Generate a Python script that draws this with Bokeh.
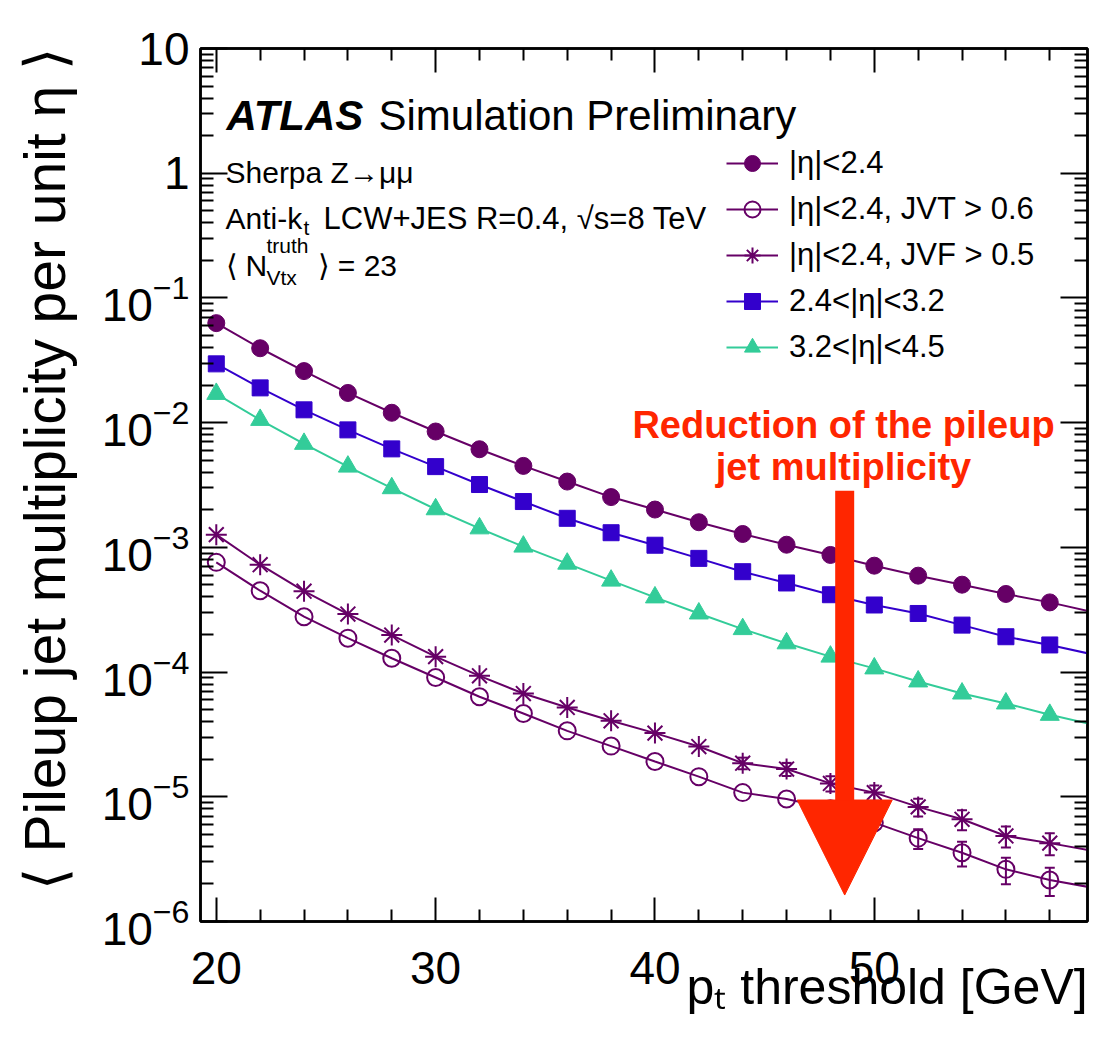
import math
from bokeh.plotting import figure
from bokeh.models import (Range1d, FixedTicker, LogTickFormatter, LinearAxis, LogAxis,
                          Label, Legend, LegendItem, Arrow, NormalHead, Whisker,
                          ColumnDataSource, TeeHead, CustomJSTickFormatter)
from bokeh.embed import file_html
from bokeh.resources import INLINE

# ---------------- data ----------------
pt_threshold = [20, 22, 24, 26, 28, 30, 32, 34, 36, 38, 40, 42, 44, 46, 48, 50, 52, 54, 56, 58, 60]

eta_lt_24 = [0.0628, 0.0395, 0.0259, 0.0173, 0.0120, 0.00849, 0.00612, 0.00450, 0.00337, 0.00253,
             0.00201, 0.00159, 0.00128, 0.00105, 0.000869, 0.000713, 0.000593, 0.000502, 0.000423,
             0.000362, 0.000302]

eta_lt_24_jvt = [0.000758, 0.000449, 0.000278, 0.000187, 0.000129, 0.0000905, 0.0000634, 0.0000465,
                 0.0000338, 0.0000255, 0.0000192, 0.0000145, 0.0000108, 0.0000096, 0.0000080,
                 0.0000062, 0.00000466, 0.00000356, 0.00000262, 0.00000215, 0.00000186]
eta_lt_24_jvt_err = [1.2e-5, 9e-6, 7e-6, 5.5e-6, 4.5e-6, 3.8e-6, 3.2e-6, 2.7e-6, 2.3e-6, 2.0e-6,
                     1.7e-6, 1.5e-6, 1.3e-6, 1.2e-6, 1.1e-6, 0.95e-6, 0.84e-6, 0.80e-6, 0.63e-6,
                     0.55e-6, 0.50e-6]

eta_lt_24_jvf = [0.001265, 0.000726, 0.000445, 0.000292, 0.000198, 0.000133, 0.0000933, 0.0000673,
                 0.0000520, 0.0000407, 0.0000324, 0.0000253, 0.0000186, 0.0000167, 0.0000128,
                 0.0000108, 0.0000083, 0.0000066, 0.00000485, 0.00000425, 0.00000368]
eta_lt_24_jvf_err = [2.5e-5, 1.7e-5, 1.2e-5, 9e-6, 7e-6, 5.5e-6, 4.5e-6, 3.8e-6, 3.3e-6, 2.9e-6,
                     2.6e-6, 2.3e-6, 2.0e-6, 2.0e-6, 1.8e-6, 1.5e-6, 1.35e-6, 1.2e-6, 0.93e-6,
                     0.85e-6, 0.8e-6]

eta_24_32 = [0.0296, 0.0190, 0.01267, 0.00875, 0.00616, 0.00444, 0.00319, 0.00233, 0.00171, 0.00131,
             0.00104, 0.000816, 0.000638, 0.000518, 0.000417, 0.000345, 0.000295, 0.000238, 0.000192,
             0.000165, 0.000138]

eta_32_45 = [0.0170, 0.01052, 0.00676, 0.00444, 0.00298, 0.00202, 0.00142, 0.001014, 0.000740,
             0.000541, 0.000397, 0.000295, 0.000221, 0.000170, 0.000133, 0.000107, 0.0000841,
             0.0000673, 0.0000560, 0.0000454, 0.0000378]

series_labels = ["|η|<2.4", "|η|<2.4, JVT > 0.6", "|η|<2.4, JVF > 0.5", "2.4<|η|<3.2", "3.2<|η|<4.5"]

x_major_ticks = [20, 30, 40, 50]
x_minor_ticks = [22, 24, 26, 28, 32, 34, 36, 38, 42, 44, 46, 48, 52, 54, 56, 58]
y_decades = [-6, -5, -4, -3, -2, -1, 0, 1]
y_major_ticks = [10.0 ** k for k in y_decades]
y_minor_ticks = [m * 10.0 ** k for k in y_decades[:-1] for m in range(2, 10)]

x_title = "p\u209c threshold [GeV]"
y_title = "⟨ Pileup jet multiplicity per unit η ⟩"

arrow_x = 48.65
arrow_y_start = 2.85e-3
arrow_y_end = 1.63e-6

X_MIN, X_MAX = 19.28, 59.72
Y_MIN, Y_MAX = 1e-6, 10.0

# ---------------- style ----------------
FONT = "Liberation Sans"
PURPLE = "#660066"
BLUE = "#3300cc"
GREEN = "#33cc99"
RED = "#ff2600"
NBSP = "\u00a0"

p = figure(width=1097, height=1043, x_range=Range1d(X_MIN, X_MAX), y_range=Range1d(Y_MIN, Y_MAX),
           y_axis_type="log", output_backend="svg", toolbar_location=None,
           min_border_left=200, min_border_right=10, min_border_top=48, min_border_bottom=122,
           background_fill_color="white", border_fill_color="white")
p.grid.visible = False
p.outline_line_color = "black"
p.outline_line_width = 2.5


def style_axis(ax, major_in, minor_in, labels=True):
    ax.axis_line_color = "black"
    ax.axis_line_width = 2.5
    ax.major_tick_in = major_in
    ax.major_tick_out = 0
    ax.minor_tick_in = minor_in
    ax.minor_tick_out = 0
    ax.major_tick_line_width = 2
    ax.minor_tick_line_width = 2
    ax.major_tick_line_color = "black"
    ax.minor_tick_line_color = "black"
    if labels:
        ax.major_label_text_font = FONT
        ax.major_label_text_font_size = "46px"
        ax.major_label_text_color = "black"
    else:
        ax.formatter = CustomJSTickFormatter(code="return ''")
        ax.major_label_standoff = 0


def style_title(ax, text, size, standoff):
    ax.axis_label = text
    ax.axis_label_text_font = FONT
    ax.axis_label_text_font_size = f"{size}px"
    ax.axis_label_text_font_style = "normal"
    ax.axis_label_text_color = "black"
    ax.axis_label_standoff = standoff


xax = p.xaxis[0]
xax.ticker = FixedTicker(ticks=x_major_ticks, minor_ticks=x_minor_ticks)
style_axis(xax, 24, 12)
xax.major_label_standoff = 30
# title is centred by Bokeh; leading no-break spaces push it to the right end like ROOT
style_title(xax, NBSP * 35 + x_title, 50, -28)

yax = p.yaxis[0]
yax.ticker = FixedTicker(ticks=y_major_ticks, minor_ticks=y_minor_ticks)
yax.formatter = LogTickFormatter()
yax.major_label_overrides = {10: "10", 1: "1"}
style_axis(yax, 27, 13)
yax.major_label_standoff = 11
style_title(yax, NBSP * 2 + y_title, 57, 22)

top = LinearAxis(ticker=FixedTicker(ticks=x_major_ticks, minor_ticks=x_minor_ticks))
style_axis(top, 24, 12, labels=False)
p.add_layout(top, "above")

right = LogAxis(ticker=FixedTicker(ticks=y_major_ticks, minor_ticks=y_minor_ticks))
style_axis(right, 27, 13, labels=False)
p.add_layout(right, "right")


# ---------------- series ----------------
def in_view(xs, ys):
    sel = [(x, y) for x, y in zip(xs, ys) if X_MIN <= x <= X_MAX]
    return [s[0] for s in sel], [s[1] for s in sel]


def draw_series(vals, marker, color, fill, size, lw):
    line_r = p.line(pt_threshold, vals, line_color=color, line_width=2)
    xs, ys = in_view(pt_threshold, vals)
    mark_r = p.scatter(xs, ys, marker=marker, size=size, fill_color=fill, line_color=color,
                       line_width=lw)
    return line_r, mark_r


def draw_errors(vals, errs, color, min_rel):
    sel = [(x, v, e) for x, v, e in zip(pt_threshold, vals, errs)
           if X_MIN <= x <= X_MAX and e / v > min_rel]
    src = ColumnDataSource(dict(x=[s[0] for s in sel],
                                lower=[s[1] - s[2] for s in sel],
                                upper=[s[1] + s[2] for s in sel]))
    w = Whisker(base="x", lower="lower", upper="upper", source=src, line_color=color, line_width=2,
                upper_head=TeeHead(size=10, line_color=color, line_width=2),
                lower_head=TeeHead(size=10, line_color=color, line_width=2),
                level="underlay")
    p.add_layout(w)


draw_errors(eta_lt_24_jvt, eta_lt_24_jvt_err, PURPLE, 0.16)
draw_errors(eta_lt_24_jvf, eta_lt_24_jvf_err, PURPLE, 0.10)

r1 = draw_series(eta_lt_24, "circle", PURPLE, PURPLE, 17, 1)
r2 = draw_series(eta_lt_24_jvt, "circle", PURPLE, None, 17, 2)
r3 = draw_series(eta_lt_24_jvf, "asterisk", PURPLE, None, 21, 2)
r4 = draw_series(eta_24_32, "square", BLUE, BLUE, 16, 1)
r5 = draw_series(eta_32_45, "triangle", GREEN, GREEN, 19, 1)

legend = Legend(items=[LegendItem(label=lab, renderers=list(r))
                       for lab, r in zip(series_labels, [r1, r2, r3, r4, r5])],
                location=(526, 554), glyph_width=52, glyph_height=40, spacing=6, padding=0,
                margin=0, label_standoff=11, label_text_font=FONT, label_text_font_size="31px",
                label_text_color="black", border_line_color=None, background_fill_alpha=0)
p.add_layout(legend)

# ---------------- arrow ----------------
p.add_layout(Arrow(end=NormalHead(size=95, fill_color=RED, line_color=RED, line_width=1),
                   x_start=arrow_x, y_start=arrow_y_start, x_end=arrow_x, y_end=arrow_y_end,
                   line_color=RED, line_width=19))

# ---------------- texts ----------------
FRAME_LEFT = 200.0
FRAME_BOTTOM = 921.0


def add_text(xp, yp, text, size, style="normal", color="black", align="left",
             baseline="alphabetic", angle=0.0, font=FONT):
    p.add_layout(Label(x=xp - FRAME_LEFT, y=FRAME_BOTTOM - yp, x_units="screen", y_units="screen",
                       text=text, text_font=font, text_font_size=f"{size}px",
                       text_font_style=style, text_color=color, text_align=align,
                       text_baseline=baseline, angle=angle))


add_text(226, 115, "ATLAS", 42, style="bold italic")
add_text(378, 115, "Simulation Preliminary", 42)

add_text(225, 172, "Sherpa Z→μμ", 30)
add_text(225, 218, "Anti-k", 30)
add_text(303, 227, "t", 21)
add_text(323, 218, "LCW+JES R=0.4, √s=8 TeV", 31)
add_text(225, 265, "⟨", 30)
add_text(245, 265, "N", 30)
add_text(266, 245, "truth", 21)
add_text(266, 277, "Vtx", 21)
add_text(317, 265, "⟩ = 23", 30)

add_text(843, 424, "Reduction of the pileup", 38, style="bold", color=RED, align="center")
add_text(843, 466, "jet multiplicity", 38, style="bold", color=RED, align="center")

open("out.html", "w").write(file_html(p, INLINE))
